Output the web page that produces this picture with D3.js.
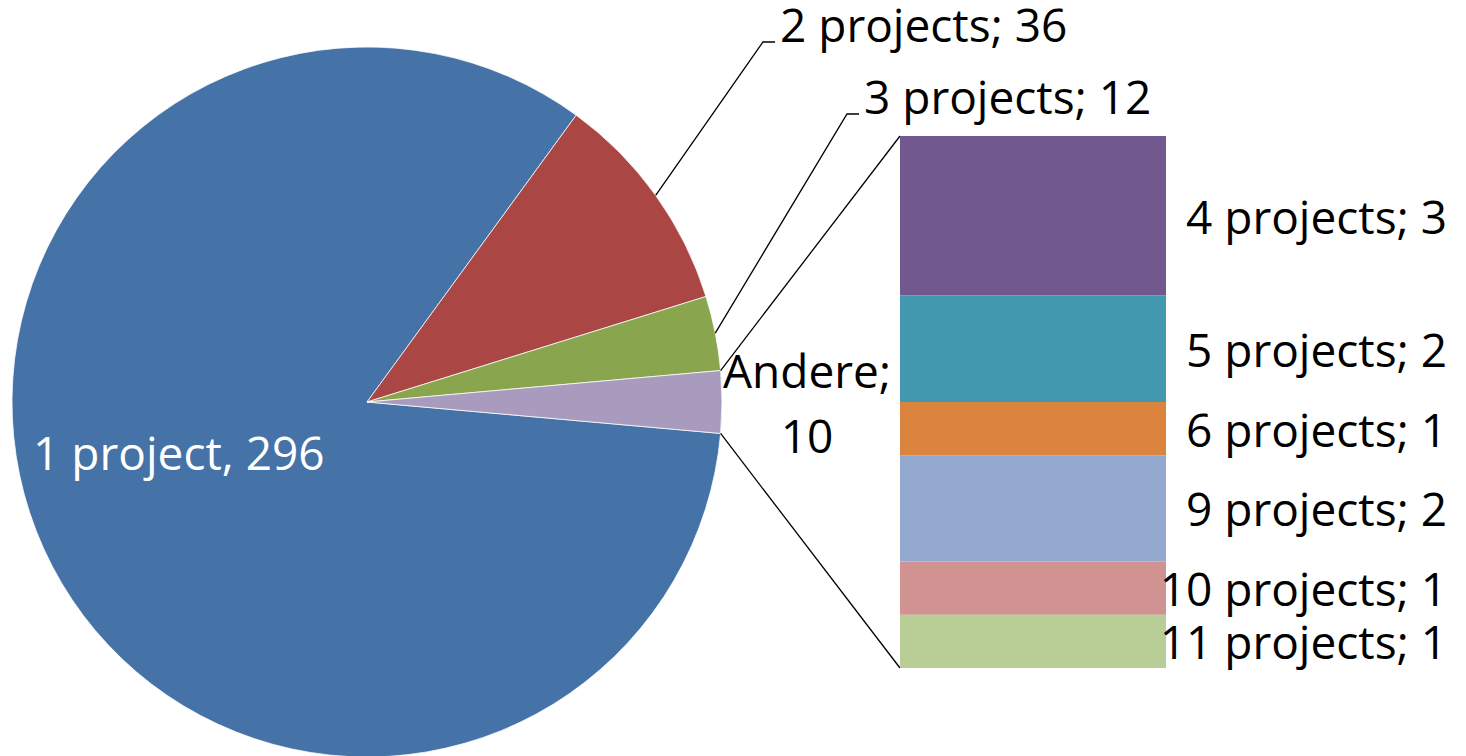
<!DOCTYPE html>
<html>
<head>
<meta charset="utf-8">
<script src="https://cdn.jsdelivr.net/npm/d3@7"></script>
<style>
  html, body { margin: 0; padding: 0; background: #fff; }
  text { font-family: "Open Sans", "Noto Sans", sans-serif; font-size: 46px; }
</style>
</head>
<body>
<div class="chart"></div>
<script>
// pie slices (last one is the "Andere" group broken out in the bar)
const pieNames = ['1 project', '2 projects', '3 projects', 'Andere'];
const pieValues = [296, 36, 12, 10];
const pieColors = ['#4572A7', '#AA4643', '#89A54E', '#A99BBD'];

// breakdown of "Andere"
const barNames = ['4 projects', '5 projects', '6 projects', '9 projects', '10 projects', '11 projects'];
const barValues = [3, 2, 1, 2, 1, 1];
const barColors = ['#71588F', '#4198AF', '#DB843D', '#93A9CF', '#D19392', '#B9CD96'];

const width = 1466;
const height = 756;
const cx = 367;
const cy = 402;
const r = 355;
const barX = 900;
const barW = 266;
const barTop = 136;
const barBottom = 668;

const svg = d3.select('.chart')
  .append('svg')
  .attr('width', width)
  .attr('height', height)
  .attr('viewBox', '0, 0, ' + width + ', ' + height);

const total = d3.sum(pieValues);
const half = pieValues[3] / total * Math.PI;   // half of the Andere slice, centred at 3 o'clock

const pie = d3.pie()
  .sort(null)
  .startAngle(Math.PI / 2 + half - 2 * Math.PI)
  .endAngle(Math.PI / 2 + half);

const arcs = pie(pieValues);
const arc = d3.arc().innerRadius(0).outerRadius(r);

const g = svg.append('g').attr('transform', 'translate(' + cx + ',' + cy + ')');

g.selectAll('.slice')
  .data(arcs)
  .enter()
  .append('path')
  .attr('class', 'slice')
  .attr('d', arc)
  .attr('fill', (d, i) => pieColors[i])
  .attr('stroke', '#fff')
  .attr('stroke-width', 0.75);

const onCircle = (a, rad) => [rad * Math.sin(a), -rad * Math.cos(a)];

// bar of the rest
const y = d3.scaleLinear().domain([0, d3.sum(barValues)]).range([barTop, barBottom]);
const stacked = [];
let acc = 0;
barValues.forEach((v, i) => {
  stacked.push({ name: barNames[i], value: v, y0: acc, y1: acc + v, color: barColors[i] });
  acc += v;
});

// connector lines from the Andere slice to the bar
const andere = arcs[3];
const pTop = onCircle(andere.startAngle, r);
const pBot = onCircle(andere.endAngle, r);
svg.append('line')
  .attr('x1', cx + pTop[0]).attr('y1', cy + pTop[1])
  .attr('x2', barX).attr('y2', y(0))
  .attr('stroke', '#000').attr('stroke-width', 1.3);
svg.append('line')
  .attr('x1', cx + pBot[0]).attr('y1', cy + pBot[1])
  .attr('x2', barX).attr('y2', y(d3.sum(barValues)))
  .attr('stroke', '#000').attr('stroke-width', 1.3);

svg.selectAll('.seg')
  .data(stacked)
  .enter()
  .append('rect')
  .attr('class', 'seg')
  .attr('x', barX)
  .attr('width', barW)
  .attr('y', d => y(d.y0))
  .attr('height', d => y(d.y1) - y(d.y0))
  .attr('fill', d => d.color);

svg.selectAll('.seglabel')
  .data(stacked)
  .enter()
  .append('text')
  .attr('class', 'seglabel')
  .attr('x', 1447)
  .attr('y', d => (y(d.y0) + y(d.y1)) / 2 + 18)
  .attr('text-anchor', 'end')
  .attr('fill', '#000')
  .text(d => d.name + '; ' + d.value);

// label inside the big slice
svg.append('text')
  .attr('x', cx - 0.53 * r)
  .attr('y', cy + 68)
  .attr('text-anchor', 'middle')
  .attr('fill', '#fff')
  .text(pieNames[0] + ', ' + pieValues[0]);

// leader labels for the two small slices
const leaders = [
  { i: 1, elbow: [763, 42] },
  { i: 2, elbow: [847, 114] }
];
leaders.forEach(l => {
  const a = arcs[l.i];
  const p = onCircle((a.startAngle + a.endAngle) / 2, r);
  svg.append('polyline')
    .attr('points', [[cx + p[0], cy + p[1]], l.elbow, [l.elbow[0] + 12, l.elbow[1]]].map(q => q.join(',')).join(' '))
    .attr('fill', 'none')
    .attr('stroke', '#000')
    .attr('stroke-width', 1.3);
  svg.append('text')
    .attr('x', l.elbow[0] + 17)
    .attr('y', l.elbow[1])
    .attr('fill', '#000')
    .text(pieNames[l.i] + '; ' + pieValues[l.i]);
});

// Andere label, two lines
const andereLabel = svg.append('text')
  .attr('text-anchor', 'middle')
  .attr('fill', '#000');
andereLabel.append('tspan').attr('x', 807).attr('y', cy - 14).text(pieNames[3] + ';');
andereLabel.append('tspan').attr('x', 807).attr('y', cy + 51).text(d3.sum(barValues));
</script>
</body>
</html>
